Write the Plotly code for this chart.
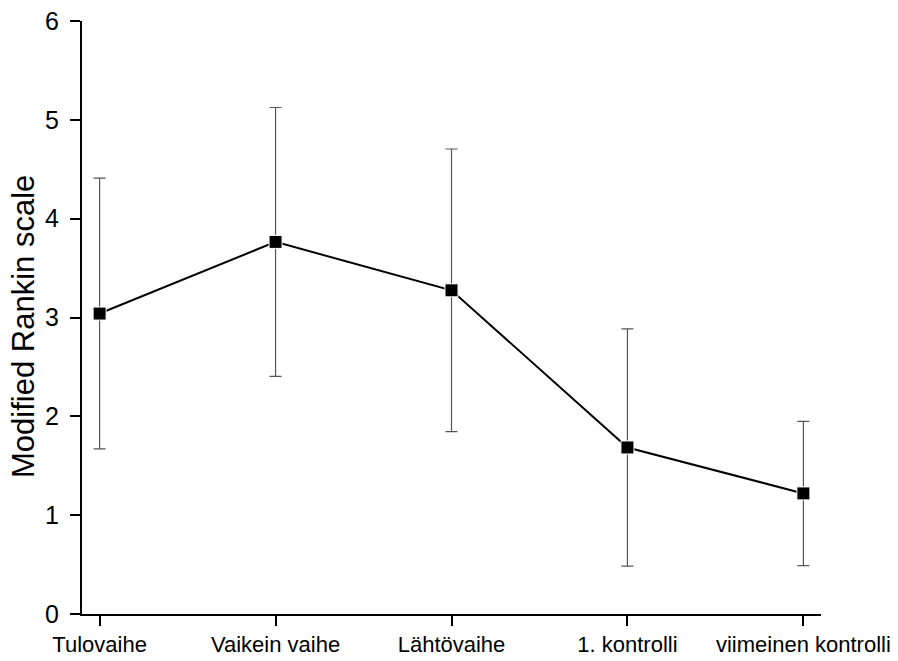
import plotly.graph_objects as go

categories = ["Tulovaihe", "Vaikein vaihe", "Lähtövaihe", "1. kontrolli", "viimeinen kontrolli"]
means = [3.04, 3.765, 3.275, 1.685, 1.22]
errors = [1.37, 1.36, 1.43, 1.20, 0.73]
y_ticks = [0, 1, 2, 3, 4, 5, 6]
y_title = "Modified Rankin scale"

x_idx = list(range(len(categories)))

fig = go.Figure()
fig.add_trace(go.Scatter(
    x=x_idx, y=means,
    mode="lines+markers",
    line=dict(color="black", width=2),
    marker=dict(symbol="square", size=13, color="black", line=dict(color="white", width=1)),
    error_y=dict(type="data", array=errors, visible=True, color="#555555", thickness=1.2, width=6),
    showlegend=False,
))

font_family = "Liberation Sans, Arial, sans-serif"
fig.update_layout(
    width=898, height=661,
    margin=dict(l=82, r=77, t=21, b=47),
    paper_bgcolor="white", plot_bgcolor="white",
    font=dict(family=font_family, color="black", size=22),
    xaxis=dict(
        range=[-0.1, 4.1],
        tickmode="array", tickvals=x_idx, ticktext=categories,
        showline=True, linecolor="black", linewidth=2,
        ticks="outside", ticklen=10, tickwidth=2, tickcolor="black",
        showgrid=False, zeroline=False, automargin=False,
        tickfont=dict(size=22, family=font_family),
    ),
    yaxis=dict(
        range=[0, 6],
        tickmode="array", tickvals=y_ticks,
        showline=True, linecolor="black", linewidth=2,
        ticks="outside", ticklen=10, tickwidth=2, tickcolor="black",
        showgrid=False, zeroline=False, automargin=False,
        tickfont=dict(size=25, family=font_family),
        ticklabelstandoff=6,
    ),
    annotations=[dict(
        text=y_title, textangle=-90, showarrow=False,
        xref="paper", yref="paper", x=-0.0785, y=0.4857,
        xanchor="center", yanchor="middle",
        font=dict(size=31, family=font_family, color="black"),
    )],
)

fig.write_html(
    "out.html",
    config={"displayModeBar": False},
    post_script="document.body.style.margin='0';document.body.style.overflow='hidden';",
)
